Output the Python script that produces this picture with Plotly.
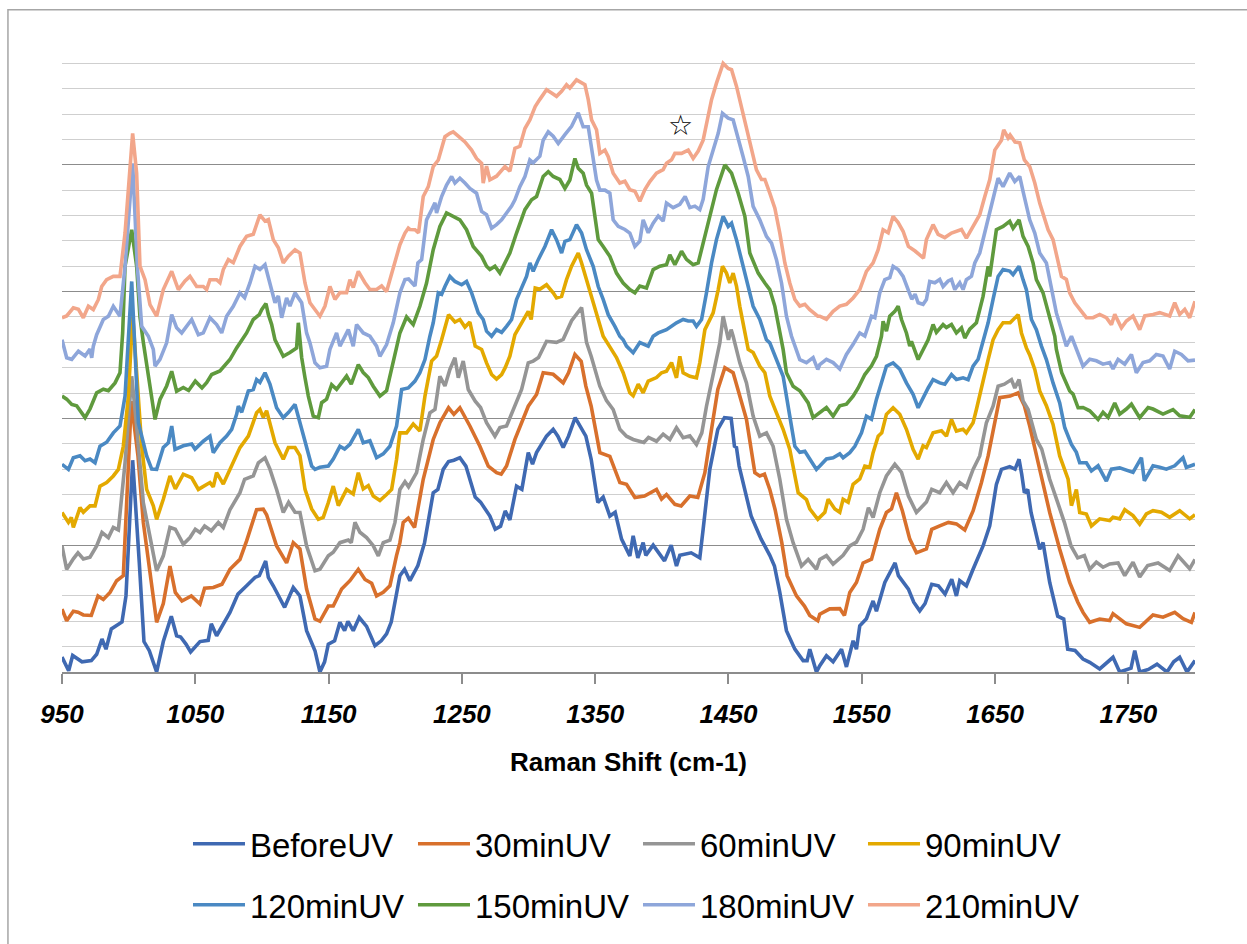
import plotly.graph_objects as go

# ---------------- data (Raman shift cm-1, stacked intensity in gridline units) ----------------
series_names = ["BeforeUV", "30minUV", "60minUV", "90minUV",
                "120minUV", "150minUV", "180minUV", "210minUV"]
series_colors = ["#3F69B2", "#D8702C", "#959595", "#E3A900",
                 "#4A89C3", "#5F9A3D", "#8EA6DA", "#F2A68A"]

before_uv = [(950,0.59),(955,0.05),(958,0.65),(965,0.4),(972,0.45),(976,0.7),(980,1.3),(983,0.9),(987,1.7),(995,1.97),(998,3.0),(1003,8.35),(1008,4.3),(1011.5,1.2),(1015.5,0.84),(1021,0.0),(1026,1.2),(1032,2.2),(1036,1.43),(1039,1.38),(1043,1.1),(1046.5,0.79),(1053.5,1.2),(1059.7,1.25),(1062,1.9),(1066,1.43),(1076,2.35),(1082,3.07),(1088.5,3.4),(1094.8,3.73),(1098,3.8),(1102.8,4.38),(1104.8,3.73),(1108.5,3.4),(1117,2.55),(1123.5,3.33),(1128.5,3.0),(1133.5,1.63),(1139.8,0.84),(1143.5,0.0),(1147,0.4),(1149.8,1.1),(1154.5,1.23),(1158.5,1.96),(1162,1.63),(1164.5,2.0),(1168.5,1.63),(1173,2.15),(1178.5,1.8),(1184.8,1.04),(1189.5,1.23),(1193.5,1.5),(1197,1.97),(1201,3.14),(1203.5,3.8),(1207,4.05),(1211,3.6),(1217,4.2),(1222,5.1),(1228.5,7.07),(1232,7.2),(1236,7.99),(1240,8.3),(1244,8.35),(1248.5,8.45),(1253,8.12),(1256,7.6),(1260,6.9),(1264,6.7),(1271,6.15),(1275,5.63),(1279,5.75),(1282.5,6.35),(1286,6.0),(1291,7.33),(1295,7.2),(1299.8,8.65),(1303,8.2),(1306,8.65),(1313.5,9.3),(1318.5,9.57),(1322,9.3),(1326,8.85),(1330,9.3),(1335,10.03),(1339,9.63),(1343,9.3),(1347,8.39),(1352,6.68),(1356,6.9),(1361,6.15),(1365,6.3),(1369.8,5.24),(1376,4.58),(1378.5,5.37),(1382,4.5),(1386,5.1),(1388,4.6),(1393.5,5.0),(1402,4.38),(1407,5.0),(1411,4.18),(1413.5,4.6),(1422,4.7),(1428.5,4.5),(1431,5.63),(1436,7.99),(1442,9.57),(1447,10.03),(1452,10.0),(1454.5,8.9),(1456,8.85),(1458,8.12),(1467,6.15),(1474.5,5.24),(1481,4.6),(1484.5,4.18),(1488.5,3.14),(1493.5,1.63),(1499.8,0.9),(1506,0.45),(1509,0.45),(1511,0.9),(1516,0.0),(1518.5,0.25),(1523.5,0.64),(1528.5,0.4),(1534.8,0.9),(1538.5,0.2),(1543.5,1.23),(1546,0.9),(1548.5,1.82),(1553.5,2.1),(1558.5,2.8),(1561,2.4),(1567.3,3.53),(1570,3.8),(1575,4.3),(1577.5,3.8),(1585,3.27),(1589,2.75),(1593.5,2.41),(1597.5,2.7),(1602.5,3.46),(1607.5,3.4),(1612.5,3.07),(1617.5,3.66),(1621,3.0),(1623.5,3.6),(1628.5,3.4),(1633.5,4.05),(1641,4.97),(1646,5.76),(1651,7.4),(1654.8,7.99),(1661,8.1),(1665,8.0),(1668,8.39),(1670,7.8),(1672,7.07),(1674.5,7.2),(1677,6.29),(1683.5,4.84),(1686,5.1),(1691,3.53),(1697,2.2),(1701.5,2.09),(1704.5,0.9),(1710,0.85),(1716,0.51),(1721,0.38),(1728.5,0.12),(1738.5,0.58),(1743.5,0.0),(1752,0.15),(1754.8,0.84),(1758.5,0.0),(1765,0.1),(1771.5,0.31),(1779,0.0),(1784,0.4),(1788.5,0.58),(1794,0.0),(1800,0.45)]

uv_30min = [(950,2.48),(953.5,2.02),(958.5,2.4),(962,2.36),(966,2.25),(972,2.23),(977,3.0),(981,2.86),(986,3.14),(991,3.6),(996,3.8),(1002,10.68),(1007,8.52),(1011,5.9),(1016,3.93),(1021,1.96),(1026,2.7),(1031,4.18),(1035,3.14),(1040,2.8),(1047,3.0),(1053.5,2.68),(1057,3.3),(1063.5,3.33),(1070,3.46),(1076,4.05),(1083.5,4.44),(1088.5,5.17),(1096,6.4),(1101,6.42),(1103.5,6.2),(1111,4.97),(1118.5,4.3),(1123.5,5.1),(1128.5,4.85),(1133.5,3.27),(1139.8,2.09),(1143.5,2.0),(1149.8,2.6),(1153.5,2.6),(1159.8,3.27),(1166,3.6),(1172.3,4.05),(1177.3,3.65),(1182.3,3.5),(1186,3.0),(1191,3.14),(1196,3.4),(1201,4.6),(1203.5,5.1),(1206,5.9),(1209.8,6.07),(1214.5,5.7),(1221,7.6),(1228.5,9.17),(1233.5,9.83),(1240,10.42),(1244,10.16),(1248.5,10.42),(1252,10.1),(1256,9.7),(1263.5,8.9),(1269.8,8.12),(1276,7.86),(1279.5,7.8),(1283.5,8.12),(1289.8,9.17),(1299.8,10.48),(1306,10.94),(1311,11.8),(1318.5,11.74),(1326,11.4),(1330,11.8),(1334.8,12.52),(1339.5,12.25),(1343,11.27),(1347,10.48),(1353.5,8.65),(1361,8.5),(1368.5,7.47),(1373.5,7.4),(1379.8,6.88),(1387,6.94),(1396,7.2),(1399.8,6.82),(1403.5,7.0),(1409.8,6.61),(1414.5,6.55),(1421,6.94),(1427,6.88),(1432.3,7.86),(1437.3,9.57),(1442,11.14),(1447.3,12.0),(1453.5,11.8),(1458.5,10.88),(1463.5,9.96),(1469.8,7.86),(1473.5,7.73),(1477,7.8),(1481,7.2),(1485,6.4),(1490,5.1),(1494,3.8),(1501,3.0),(1507,2.6),(1511,2.23),(1517,2.02),(1518.5,2.28),(1526,2.49),(1533.5,2.5),(1537,2.23),(1541,3.14),(1546,3.53),(1551,4.3),(1557.3,4.45),(1563.5,5.63),(1568.5,6.29),(1572.3,6.43),(1576,7.07),(1580.5,6.35),(1586,5.24),(1591,4.7),(1598.5,4.85),(1602.5,5.63),(1608.5,5.76),(1615,5.9),(1621,5.84),(1627.3,5.6),(1633.5,6.35),(1639.8,7.47),(1644.8,8.52),(1649.8,9.83),(1653.5,10.82),(1661.3,10.88),(1667.3,11.01),(1672,10.5),(1676,9.7),(1683.5,7.99),(1691,6.29),(1698.5,4.84),(1706,3.53),(1712,2.76),(1716,2.35),(1721,1.96),(1728.5,2.09),(1736,2.03),(1738.5,2.3),(1748.5,1.9),(1758.5,1.76),(1768.5,2.25),(1776,2.16),(1784.8,2.35),(1791,2.1),(1797.3,1.96),(1800,2.35)]

uv_60min = [(950,4.97),(953.5,4.05),(958.5,4.46),(962,4.7),(966,4.46),(971,4.53),(976,4.97),(980,5.5),(984.8,5.3),(988.5,5.7),(992.3,5.6),(997.3,8.25),(1002.3,11.66),(1006,9.7),(1011,6.68),(1016,5.24),(1021,3.99),(1026,4.58),(1031,5.7),(1035,5.63),(1041,5.04),(1046,5.3),(1050,5.63),(1053.5,5.5),(1057,5.76),(1062,5.57),(1067.3,5.9),(1071,5.7),(1076,6.4),(1083.5,7.07),(1087,7.6),(1093.5,7.73),(1097.3,8.25),(1102.3,8.45),(1106,8.0),(1111,7.2),(1116,6.29),(1120,6.69),(1124.8,6.3),(1128.5,6.29),(1133.5,4.97),(1139.8,3.99),(1143.5,4.05),(1149.8,4.58),(1153.5,4.72),(1158.5,5.1),(1164.8,5.2),(1167,5.1),(1169.8,5.9),(1173.5,5.51),(1178.5,5.3),(1183.5,4.98),(1187.3,4.58),(1191,5.1),(1196,5.2),(1199.8,5.9),(1203.5,7.2),(1207.3,7.5),(1210,7.3),(1216,7.86),(1221,9.17),(1226,10.22),(1229.8,10.35),(1233.5,11.66),(1237.3,11.28),(1241,11.93),(1244.8,12.39),(1247.3,11.6),(1251,12.26),(1254.8,11.14),(1260,10.68),(1264,10.43),(1268.5,9.83),(1274.8,9.3),(1278.5,9.64),(1283.5,9.7),(1289.8,10.48),(1294.8,11.14),(1299.8,12.19),(1303.5,12.26),(1307.5,12.4),(1313.5,13.04),(1321,13.0),(1326,13.12),(1332.3,13.85),(1339.8,14.37),(1343.5,13.0),(1347,12.45),(1353.5,11.27),(1358.5,10.7),(1363.5,10.35),(1368.5,9.57),(1373.5,9.3),(1378.5,9.17),(1386.5,9.05),(1390,9.25),(1396,9.1),(1401,9.38),(1406,9.17),(1411,9.63),(1416,9.24),(1421,9.31),(1426,8.97),(1430,9.43),(1433.5,10.48),(1438.5,11.8),(1443.5,12.98),(1446,14.03),(1450,13.1),(1452,13.5),(1453.5,13.24),(1458.5,12.19),(1463.5,11.4),(1468.5,10.09),(1473.5,9.3),(1478.5,9.43),(1483.5,8.9),(1488.5,7.6),(1493.5,6.02),(1498.5,5.1),(1504.8,4.18),(1509.8,4.44),(1516,4.05),(1518.5,4.44),(1523.5,4.59),(1528.5,4.25),(1536,4.6),(1541,4.97),(1546,5.12),(1551,5.63),(1555,6.48),(1558.5,6.09),(1563.5,7.07),(1568.5,7.73),(1574.8,8.19),(1579.8,7.87),(1585,6.94),(1591,6.29),(1598.5,6.7),(1602.5,7.2),(1608.5,7.07),(1613.5,7.47),(1618.5,7.07),(1623.5,7.47),(1628.5,7.28),(1633.5,7.99),(1638.5,8.52),(1643.5,9.83),(1648.5,10.48),(1652.3,11.27),(1657,11.35),(1662.3,11.53),(1664.8,11.2),(1668,11.53),(1671,10.69),(1674.8,10.35),(1681,9.17),(1685,8.79),(1691,7.6),(1697,6.68),(1702,5.9),(1707,4.97),(1712,4.5),(1717,4.59),(1721,4.05),(1726,4.33),(1731,4.13),(1736,4.26),(1742.3,4.3),(1747.3,3.8),(1753.5,4.33),(1758.5,3.75),(1764.5,4.2),(1772.3,4.3),(1781,4.0),(1787.3,4.58),(1796,4.07),(1800,4.44)]

uv_90min = [(950,6.29),(954.8,5.9),(957,6.1),(958.5,5.7),(963.5,6.48),(966,6.3),(971,6.55),(974.8,6.55),(978.5,7.33),(983.5,7.47),(988.5,7.73),(992.3,7.99),(996,8.9),(999.8,10.88),(1003,14.1),(1009.8,8.9),(1013.5,7.2),(1018.5,6.55),(1021,6.02),(1026,6.81),(1031,7.73),(1035,7.22),(1041,7.8),(1047.3,7.66),(1052.3,7.2),(1057,7.35),(1061,7.47),(1063.5,7.3),(1066,7.86),(1071,7.41),(1076,7.99),(1083.5,8.85),(1089.8,9.3),(1096,10.22),(1098.5,10.35),(1101,10.04),(1103.5,10.3),(1109.8,9.04),(1116,8.39),(1119.8,8.85),(1124.8,8.85),(1128.5,8.53),(1132.3,7.2),(1137.3,6.43),(1142.3,6.02),(1146,6.1),(1149.8,6.68),(1153.5,7.33),(1157.3,6.56),(1163.5,7.2),(1168.5,7.02),(1172.3,7.86),(1176,7.22),(1179.8,7.35),(1183.5,6.94),(1188.5,6.76),(1193.5,7.0),(1197.3,7.2),(1201,8.39),(1203.5,9.43),(1208.5,9.43),(1213.5,9.78),(1218.5,9.5),(1222.3,10.88),(1227.3,12.26),(1231,12.46),(1234.8,13.1),(1240,14.09),(1244.8,13.8),(1248.5,13.9),(1252.3,13.6),(1256,13.8),(1260,12.85),(1264.8,12.72),(1268.5,12.19),(1272.3,11.73),(1276,11.55),(1279.8,11.73),(1282.5,12.0),(1286,12.45),(1289.8,13.3),(1296,13.9),(1299.8,14.22),(1302,13.9),(1305,15.14),(1308.5,15.09),(1313.5,15.27),(1318.5,14.95),(1321,14.75),(1324.8,14.81),(1328.5,15.47),(1332.3,16.0),(1337.3,16.52),(1339.8,16.13),(1343.5,15.47),(1347.3,14.81),(1351,14.03),(1356,13.24),(1361,12.82),(1366,12.4),(1371,11.8),(1376,11.01),(1378.5,10.89),(1382.3,11.35),(1386,11.01),(1389.8,11.47),(1396,11.61),(1399.8,11.8),(1403.5,11.86),(1407.3,12.2),(1411,11.6),(1413.5,12.45),(1416,11.8),(1421,11.66),(1426,11.6),(1428.5,12.2),(1432.3,13.5),(1438.5,14.16),(1442.3,15.08),(1445.5,16.0),(1448.5,15.73),(1451,15.34),(1453.5,15.73),(1456,15.22),(1458.5,14.42),(1462.3,13.37),(1464.8,12.72),(1468.5,12.6),(1473.5,12.06),(1477.3,11.8),(1481,10.88),(1486,10.22),(1491,9.57),(1496,8.78),(1502.3,7.07),(1508.5,6.8),(1511,6.43),(1517,6.02),(1522.3,6.3),(1524.8,6.81),(1529.8,6.43),(1533.5,6.3),(1536,6.81),(1539.8,6.69),(1543.5,7.4),(1548.5,7.61),(1552.3,8.12),(1556,8.07),(1558.5,8.65),(1562.3,9.3),(1565,9.43),(1568.5,10.16),(1573.5,10.42),(1578.5,10.16),(1583.5,9.57),(1588.5,8.78),(1592.3,8.39),(1596,8.92),(1598.5,8.85),(1603.5,9.43),(1609.8,9.51),(1613.5,9.3),(1617.3,9.96),(1621,9.5),(1626,9.57),(1628.5,9.43),(1633.5,9.83),(1636,10.35),(1641,11.53),(1644.8,12.32),(1648.5,13.1),(1652.3,13.5),(1656,13.77),(1661.3,13.77),(1667.3,14.09),(1669.8,13.37),(1673.5,12.78),(1676,12.5),(1679.8,11.93),(1683.5,11.08),(1688.5,10.5),(1693.5,9.76),(1698.5,8.52),(1704.8,7.6),(1707.3,6.56),(1711,7.2),(1713.5,6.29),(1718.5,6.23),(1722.3,5.76),(1728.5,6.04),(1736,5.97),(1738.5,6.1),(1743.5,6.04),(1747.3,6.4),(1753.5,6.17),(1758.5,5.83),(1763.5,6.23),(1768.5,6.36),(1774.8,6.3),(1781,6.1),(1788.5,6.36),(1796,6.04),(1800,6.2)]

uv_120min = [(950,8.19),(954.8,7.99),(958.5,8.45),(963.5,8.53),(967.3,8.33),(971,8.4),(974.8,8.25),(978.5,8.9),(983.5,9.06),(988.5,9.43),(993.5,9.7),(997.3,10.88),(1002.3,15.4),(1007.3,9.83),(1013.5,8.52),(1017.3,8.0),(1021,7.99),(1026,8.85),(1029.8,9.04),(1032.3,9.7),(1034.8,8.78),(1041,8.92),(1047.3,8.99),(1049.8,8.79),(1056,9.1),(1061,9.3),(1063.5,8.65),(1068.5,9.04),(1073.5,9.3),(1077.3,9.57),(1081,10.16),(1082.3,10.48),(1084.8,10.24),(1089.8,11.08),(1093.5,11.14),(1096,11.53),(1098.5,11.42),(1102.3,11.8),(1106,11.35),(1111,10.42),(1116,10.03),(1120,10.24),(1124.8,10.55),(1127.3,10.1),(1132.3,9.1),(1137.3,8.12),(1139.8,7.99),(1143.5,8.07),(1149.8,8.12),(1153.5,8.4),(1158.5,8.9),(1162,8.79),(1166,8.98),(1172.3,9.57),(1176,9.04),(1181,9.12),(1186,8.45),(1191,8.6),(1196,8.9),(1201,9.7),(1204.8,11.14),(1209.8,11.2),(1214.8,11.47),(1218.5,11.8),(1222.3,12.32),(1226,13.24),(1228.5,13.77),(1232.3,14.95),(1234.8,14.89),(1237.3,15.2),(1241,15.6),(1244.8,15.4),(1249.8,15.27),(1253.5,15.4),(1257.3,14.95),(1262.3,14.16),(1266,13.9),(1268.5,13.44),(1272.3,13.24),(1276,13.5),(1279.8,13.39),(1283.5,13.63),(1287.3,13.9),(1291,14.69),(1294.8,15.2),(1298.5,15.6),(1301,16.13),(1303.5,15.8),(1307.3,16.26),(1312.3,16.78),(1317.3,17.44),(1321,17.05),(1324.8,16.52),(1327.3,16.98),(1331,17.05),(1336,17.64),(1339.8,17.31),(1343.5,16.65),(1348.5,16.0),(1352.3,15.2),(1356,14.69),(1359.8,14.09),(1364.8,13.63),(1368.5,13.24),(1371,13.1),(1373.5,12.85),(1378.5,12.59),(1383.5,12.99),(1389.8,12.85),(1393.5,13.24),(1397.3,13.37),(1403.5,13.5),(1411,13.77),(1416,13.9),(1419.8,13.84),(1423.5,13.84),(1426,13.63),(1429.8,13.9),(1433.5,14.95),(1437.3,16.13),(1441,17.05),(1446,17.97),(1449.8,17.57),(1452.3,17.7),(1456,17.05),(1461,16.0),(1464.8,15.34),(1468.5,14.42),(1473.5,13.9),(1478.5,13.1),(1481,12.98),(1486,12.32),(1491,11.66),(1496,10.09),(1499.8,8.9),(1503.5,8.66),(1507.3,8.7),(1511,8.4),(1516,7.99),(1518.5,8.12),(1523.5,8.4),(1528.5,8.45),(1533.5,8.6),(1536,8.45),(1541,8.65),(1544.8,8.9),(1549.8,9.43),(1553.5,10.09),(1557.3,9.97),(1561,10.75),(1564.8,11.4),(1568.5,12.06),(1573.5,12.19),(1578.5,11.94),(1583.5,11.4),(1588.5,10.95),(1592.3,10.42),(1596,10.82),(1599.8,11.2),(1603.5,11.53),(1608.5,11.4),(1612.3,11.35),(1617.3,11.73),(1621,11.53),(1626,11.6),(1629.8,11.53),(1633.5,12.06),(1637.3,12.33),(1641,13.1),(1644.8,13.77),(1648.5,14.69),(1652.3,15.6),(1656,15.87),(1661,15.81),(1663.5,15.67),(1668,16.0),(1671,15.47),(1673.5,15.08),(1677.3,13.9),(1681,13.5),(1684.8,12.85),(1688.5,12.32),(1693.5,11.4),(1698.5,10.61),(1702.3,9.63),(1707.3,8.97),(1711,8.66),(1713.5,8.25),(1718.5,8.25),(1722.3,7.93),(1727.3,8.13),(1733.5,7.53),(1737.3,8.0),(1743.5,8.05),(1753.5,7.87),(1759.8,8.45),(1762,7.54),(1768.5,8.13),(1773.5,8.07),(1778.5,8.0),(1784.8,8.13),(1791,8.45),(1793.5,8.07),(1800,8.19)]

uv_150min = [(950,10.88),(953.5,10.76),(957.3,10.55),(961,10.5),(967.3,10.03),(971,10.37),(976,11.01),(981,11.15),(984.8,11.09),(989.8,11.4),(993.5,11.8),(995.5,13.37),(997.3,16.0),(1002.3,17.44),(1006,16.0),(1008.5,14.0),(1011,13.0),(1013.5,12.19),(1016,11.27),(1019.8,9.96),(1023.5,10.75),(1028.5,11.28),(1032.3,11.86),(1036,11.07),(1041,11.22),(1045,11.1),(1050,11.47),(1055,11.2),(1058.5,11.41),(1062.3,11.73),(1068.5,11.87),(1076,12.32),(1081,12.78),(1083.5,12.98),(1088.5,13.37),(1093.5,13.9),(1098,14.09),(1099.8,14.29),(1103,14.53),(1104.8,14.1),(1107.3,13.7),(1109.8,13.1),(1116,12.45),(1121,12.6),(1126,12.78),(1127.3,13.77),(1129.8,12.4),(1132.3,11.6),(1134.8,10.88),(1138.5,10.09),(1142.3,10.03),(1144.8,10.62),(1148.5,10.76),(1152.3,11.33),(1156,11.15),(1159.8,11.41),(1163.5,11.67),(1167,11.35),(1172.3,12.12),(1176,11.81),(1179.8,11.61),(1183.5,11.27),(1188.5,10.88),(1193.5,11.09),(1197.3,12.0),(1201,12.85),(1203.5,13.37),(1208.5,14.0),(1213.5,13.7),(1218.5,14.42),(1223.5,15.34),(1228.5,16.65),(1233.5,17.57),(1238.5,18.1),(1243.5,17.97),(1248.5,17.83),(1253.5,17.44),(1258.5,16.78),(1264.8,16.39),(1268.5,16.0),(1271,15.87),(1274.8,16.0),(1278.5,15.73),(1282.3,16.13),(1286,16.52),(1291,17.31),(1297.3,18.23),(1302.3,18.62),(1306,18.75),(1311,19.54),(1314.8,19.73),(1318.5,19.54),(1323.5,19.42),(1327.3,19.07),(1331,19.4),(1334.8,20.25),(1337.3,19.86),(1341,19.67),(1343.5,19.2),(1347.3,18.88),(1349.8,17.97),(1352.3,17.05),(1356,16.78),(1361,16.39),(1366,15.73),(1371,15.34),(1376,15.08),(1379.8,14.95),(1383.5,15.22),(1388.5,15.14),(1393.5,15.87),(1398.5,16.0),(1403.5,16.06),(1406,16.45),(1409.8,16.06),(1414.8,16.59),(1418.5,16.27),(1423.5,16.06),(1427.3,16.13),(1431,16.91),(1436,17.97),(1441,19.02),(1447.3,20.0),(1452.3,19.67),(1457.3,18.88),(1462.3,17.97),(1466,16.52),(1472.3,15.73),(1477.3,15.34),(1481,15.08),(1484.8,14.42),(1488.5,13.37),(1491,12.72),(1493.5,11.8),(1498.5,11.27),(1503.5,11.09),(1509.8,10.61),(1513.5,10.03),(1517,10.16),(1518.5,10.22),(1523.5,10.43),(1528.5,10.09),(1533.5,10.5),(1538.5,10.56),(1543.5,10.88),(1547.3,11.2),(1552.3,11.73),(1557.3,12.07),(1561,12.45),(1564.8,13.24),(1566,13.83),(1568.5,13.44),(1571,14.03),(1574.8,14.22),(1577.3,14.42),(1579.8,13.9),(1583.5,13.37),(1586,12.85),(1587.3,13.04),(1592.3,12.32),(1596,12.73),(1599.8,13.1),(1603.5,13.7),(1606,13.39),(1611,13.7),(1613.5,13.58),(1617.3,13.7),(1621,13.37),(1624.8,13.57),(1627.3,13.17),(1631,13.52),(1636,13.77),(1641,14.81),(1644.8,16.0),(1646,15.6),(1648.5,16.52),(1651,17.44),(1656,17.57),(1661,17.77),(1663.5,17.5),(1668,17.83),(1671,17.18),(1674.8,16.78),(1678.5,16.13),(1681,15.47),(1686,14.95),(1691,14.03),(1694.8,13.24),(1696,12.72),(1700,11.8),(1706,11.08),(1708.5,10.96),(1712.3,10.42),(1716,10.43),(1721,10.3),(1727.3,9.96),(1731,10.24),(1734.8,10.04),(1739.8,10.61),(1743.5,10.17),(1748.5,10.37),(1752.3,10.56),(1758.5,10.03),(1764.8,10.43),(1768.5,10.37),(1776,10.17),(1783.5,10.35),(1788.5,10.1),(1796,10.04),(1800,10.35)]

uv_180min = [(950,13.1),(953.5,12.39),(957.3,12.33),(962.3,12.65),(967.3,12.46),(971,12.73),(972.3,12.39),(973.5,12.85),(976,13.3),(981,13.9),(984.8,14.03),(988.5,14.42),(993.5,14.03),(997.3,16.0),(1003,20.06),(1006.5,16.0),(1009.8,13.63),(1014.8,13.24),(1018.5,12.72),(1019.8,12.06),(1023.5,12.33),(1028.5,12.98),(1032.3,14.09),(1036,13.57),(1039.8,13.37),(1047.3,13.9),(1052.3,13.3),(1056,13.37),(1061,13.97),(1066,13.7),(1069.8,13.37),(1073.5,14.03),(1078.5,14.42),(1083.5,14.95),(1087,14.76),(1091,15.34),(1094.8,16.0),(1098.5,15.87),(1102.3,16.06),(1107.3,15.08),(1109.8,14.56),(1112.3,14.83),(1114.8,13.97),(1118.5,14.75),(1121,14.43),(1124.8,14.95),(1129.8,14.56),(1133.5,13.37),(1136,12.98),(1139.8,12.19),(1143.5,12.0),(1148.5,12.06),(1151,12.72),(1156,13.37),(1158.5,12.85),(1164.8,13.5),(1168.5,12.85),(1171,13.7),(1176,13.37),(1181,13.24),(1186,12.85),(1188.5,12.45),(1193.5,12.91),(1198.5,13.77),(1203.5,14.95),(1207.3,15.47),(1210,15.5),(1214.8,15.22),(1217,16.13),(1219.8,16.26),(1223.5,17.83),(1227.3,18.23),(1229.8,18.5),(1231,18.1),(1234.8,18.75),(1238.5,19.2),(1242.3,19.54),(1244.8,19.28),(1248.5,19.47),(1252.3,19.28),(1256,19.07),(1261,18.88),(1264.8,18.16),(1268.5,18.03),(1272.3,17.5),(1276,17.64),(1279.8,17.83),(1283.5,18.1),(1287.3,18.37),(1289.8,18.62),(1293.5,19.14),(1297.3,19.54),(1301,20.19),(1303.5,20.08),(1308.5,20.34),(1311,20.97),(1314.8,21.3),(1318.5,21.13),(1322.3,20.84),(1327.3,21.19),(1332.3,21.52),(1337.3,22.05),(1341,21.5),(1344.8,21.5),(1347.3,20.71),(1351,19.4),(1353.5,19.0),(1357.3,19.0),(1361,18.88),(1363.5,17.83),(1367.3,17.57),(1372.3,17.45),(1376,17.31),(1379.8,16.78),(1383.5,16.99),(1386,17.83),(1389.8,17.32),(1393.5,17.7),(1397.3,17.98),(1401,17.78),(1403.5,18.49),(1408.5,18.31),(1413.5,18.44),(1417.5,18.75),(1421,18.31),(1424.8,18.37),(1428.5,18.23),(1431,18.64),(1434.8,19.93),(1438.5,20.58),(1442.3,21.24),(1445.5,22.03),(1449.8,21.84),(1453.5,21.77),(1457.3,20.97),(1461,20.32),(1464.8,19.54),(1468.5,18.36),(1473.5,17.83),(1478.5,17.18),(1482.3,16.91),(1486,16.26),(1489.8,15.34),(1493.5,14.03),(1497.3,13.24),(1499.8,12.85),(1503.5,12.32),(1508.5,12.2),(1513.5,12.4),(1517,11.93),(1518.5,12.12),(1523.5,12.33),(1528.5,12.2),(1533.5,11.95),(1538.5,12.52),(1543.5,12.92),(1548.5,13.37),(1552.3,13.25),(1557.3,14.03),(1559.8,13.97),(1563.5,14.95),(1567.3,15.47),(1571,15.55),(1573.5,16.0),(1577.3,15.87),(1581,15.6),(1585,15.08),(1587.5,14.7),(1590,14.9),(1592.3,14.56),(1596,14.5),(1598.5,14.69),(1601,15.4),(1604.8,15.35),(1608.5,15.48),(1611,15.2),(1614.8,15.42),(1617.3,15.48),(1619.8,15.08),(1623.5,15.35),(1626,15.08),(1628.5,15.47),(1632.3,15.61),(1634.8,16.13),(1638.5,16.52),(1642.3,17.31),(1646,18.1),(1649.8,18.88),(1652.3,19.47),(1656,19.14),(1661,19.67),(1664.8,19.34),(1668.5,19.54),(1671,18.95),(1676,17.83),(1679.8,17.31),(1683.5,16.52),(1688.5,16.13),(1692.3,15.08),(1696,14.16),(1699.8,13.5),(1703.5,12.85),(1707.3,13.24),(1711,12.72),(1716,12.06),(1721,12.33),(1726,12.27),(1731,12.14),(1736,12.2),(1738.5,11.95),(1742.3,12.33),(1747.3,12.14),(1752.3,12.52),(1756,11.8),(1761,12.2),(1766,12.27),(1771,12.52),(1776,12.46),(1781,11.95),(1784.8,12.65),(1789.8,12.52),(1794.8,12.27),(1800,12.3)]

uv_210min = [(950,13.97),(953.5,14.04),(958.5,14.36),(962.3,14.3),(966,13.97),(969.8,14.42),(973.5,14.29),(977.3,14.69),(979.8,15.2),(983.5,15.47),(988.5,15.6),(993.5,15.6),(997.3,17.31),(1003,21.24),(1006,19.67),(1008.5,16.0),(1012.3,15.47),(1016,14.49),(1021,14.03),(1026,15.08),(1032.3,15.8),(1037.3,15.08),(1042.3,15.42),(1046,15.6),(1051,15.2),(1056,15.2),(1058.5,15.08),(1061,15.47),(1066,15.47),(1068.5,15.35),(1071,15.87),(1074.8,16.26),(1078.5,16.14),(1083.5,16.78),(1088.5,17.18),(1093.5,17.26),(1098.5,18.03),(1102.3,17.78),(1104.8,17.84),(1108.5,17.05),(1112.3,16.73),(1116,16.13),(1119.8,16.4),(1124.8,16.65),(1128.5,16.52),(1132.3,15.34),(1136,14.56),(1139.8,14.29),(1143.5,14.03),(1147.3,14.43),(1151,15.2),(1154.8,14.69),(1158.5,14.96),(1163.5,14.96),(1166,15.47),(1168.5,15.16),(1172.3,15.8),(1177.3,15.35),(1181,15.08),(1186,15.08),(1189.8,15.22),(1193.5,15.0),(1198.5,15.87),(1203.5,16.85),(1207.3,17.31),(1209.8,17.5),(1211,17.45),(1214.8,17.44),(1217.5,17.32),(1221,18.75),(1224.8,19.14),(1228.5,19.93),(1232.3,20.19),(1237.3,21.11),(1241,21.24),(1243.5,21.3),(1247.3,21.13),(1252.3,20.9),(1257.3,20.58),(1261,20.25),(1264.8,20.06),(1266,19.28),(1268.5,19.95),(1271,19.41),(1276,19.55),(1278.5,19.69),(1282.3,19.93),(1286,19.75),(1289.8,20.65),(1293.5,20.73),(1297.3,21.43),(1301,21.77),(1305,22.3),(1308.5,22.58),(1313.5,22.96),(1317.3,22.83),(1321,22.7),(1324.8,22.9),(1328.5,23.16),(1331,23.03),(1336,23.35),(1342.3,23.16),(1344.8,22.57),(1347.3,21.77),(1351,21.38),(1353.5,20.45),(1357.3,20.58),(1359.8,20.32),(1363.5,19.67),(1368.5,19.28),(1372.3,19.35),(1376,19.02),(1379.8,18.96),(1383.5,18.56),(1387.3,19.02),(1391,19.34),(1396,19.67),(1401,19.81),(1403.5,20.06),(1407.3,20.2),(1409.8,20.45),(1414.8,20.45),(1419.8,20.58),(1423.5,20.25),(1427.3,20.54),(1431,20.97),(1434.8,21.9),(1437.3,22.57),(1441,23.22),(1443.5,23.62),(1446,24.0),(1449.8,23.8),(1452.3,23.75),(1456,23.1),(1459.8,22.3),(1463.5,21.5),(1467.3,20.58),(1471,19.8),(1474.8,19.42),(1477.3,19.42),(1481,18.88),(1484.8,18.29),(1488.5,17.31),(1492.3,16.13),(1496,15.34),(1499.8,14.69),(1503.5,14.43),(1507.3,14.5),(1511,14.29),(1517,14.03),(1518.5,14.03),(1523.5,13.91),(1528.5,14.22),(1533.5,14.43),(1538.5,14.5),(1543.5,14.75),(1548.5,15.08),(1553.5,15.8),(1558.5,16.13),(1562.3,16.65),(1566,17.44),(1569.8,17.32),(1573.5,17.97),(1577.3,17.72),(1581,17.38),(1585,16.78),(1590,16.6),(1596.3,16.32),(1598.5,17.05),(1603.5,17.64),(1607.3,17.26),(1612.3,17.13),(1617.3,17.31),(1621,17.39),(1624.8,17.45),(1628.5,17.11),(1633.5,17.58),(1638.5,18.03),(1642.3,18.75),(1646,19.41),(1649.8,20.58),(1654.8,20.97),(1656.5,21.38),(1659.8,21.06),(1661.3,21.18),(1665,20.9),(1668.5,20.87),(1672,20.19),(1676,19.93),(1679.8,19.28),(1683.5,18.49),(1686,18.11),(1689.8,17.44),(1693.5,17.05),(1697.3,16.26),(1699.8,15.6),(1703.5,15.48),(1706,14.95),(1709.8,14.56),(1713.5,14.29),(1718.5,13.97),(1723.5,13.97),(1728.5,14.1),(1733.5,13.97),(1737.3,13.7),(1739.8,14.1),(1744.8,13.57),(1748.5,13.84),(1753.5,14.04),(1758.5,13.5),(1762.3,14.04),(1768.5,14.1),(1773.5,14.17),(1781,14.04),(1784.8,14.56),(1788.5,14.1),(1792.3,14.3),(1796,13.97),(1800,14.62)]

all_series = [before_uv, uv_30min, uv_60min, uv_90min,
              uv_120min, uv_150min, uv_180min, uv_210min]

x_ticks = [950, 1050, 1150, 1250, 1350, 1450, 1550, 1650, 1750]
x_title = "Raman Shift (cm-1)"
star_note = {"x": 1414.3, "y": 21.55, "text": "☆"}

# ---------------- figure ----------------
fig = go.Figure()
for i, (name, color, pts) in enumerate(zip(series_names, series_colors, all_series)):
    fig.add_trace(go.Scatter(
        x=[p[0] for p in pts], y=[p[1] for p in pts],
        mode="lines", name=name,
        line=dict(color=color, width=3.6),
        legend="legend" if i < 4 else "legend2",
        hoverinfo="skip",
    ))

GRID_MAJOR = "#8C8C8C"
GRID_MINOR = "#CFCFCF"
FONT = "Liberation Sans, Arial, sans-serif"

legend_common = dict(orientation="h", xanchor="left", yanchor="middle",
                     font=dict(family=FONT, size=33, color="black"),
                     itemwidth=52, entrywidth=158, entrywidthmode="pixels",
                     bgcolor="rgba(0,0,0,0)")

fig.update_layout(
    width=1247, height=944,
    margin=dict(l=62, r=52, t=38, b=271),
    paper_bgcolor="white", plot_bgcolor="white",
    font=dict(family=FONT, color="black"),
    xaxis=dict(
        range=[950, 1800], tickmode="array", tickvals=x_ticks,
        ticks="outside", ticklen=10, tickwidth=1.5, tickcolor=GRID_MAJOR,
        showline=True, linecolor=GRID_MAJOR, linewidth=1.5,
        showgrid=False, zeroline=False,
        tickfont=dict(family=FONT, size=26, color="black", weight="bold", style="italic"),
        ticklabelstandoff=8,
        title=dict(text=x_title, standoff=25,
                   font=dict(family=FONT, size=26, color="black", weight="bold")),
    ),
    yaxis=dict(
        range=[0, 25], tick0=0, dtick=5,
        showgrid=True, gridcolor=GRID_MAJOR, gridwidth=1.4,
        minor=dict(dtick=1, showgrid=True, gridcolor=GRID_MINOR, gridwidth=1.4),
        showticklabels=False, ticks="", zeroline=False, showline=False,
    ),
    legend=dict(x=0.1112, y=-0.269, **legend_common),
    legend2=dict(x=0.1112, y=-0.365, **legend_common),
    shapes=[dict(type="rect", xref="paper", yref="paper",
                 x0=-0.0477, x1=1.06, y0=-0.5, y1=1.0446,
                 line=dict(color="#A6A6A6", width=1.5), fillcolor="rgba(0,0,0,0)", layer="below")],
    annotations=[dict(x=star_note["x"], y=star_note["y"], xref="x", yref="y",
                      text=star_note["text"], showarrow=False,
                      font=dict(family="DejaVu Sans", size=28, color="black"))],
)

fig.write_html("out.html")
